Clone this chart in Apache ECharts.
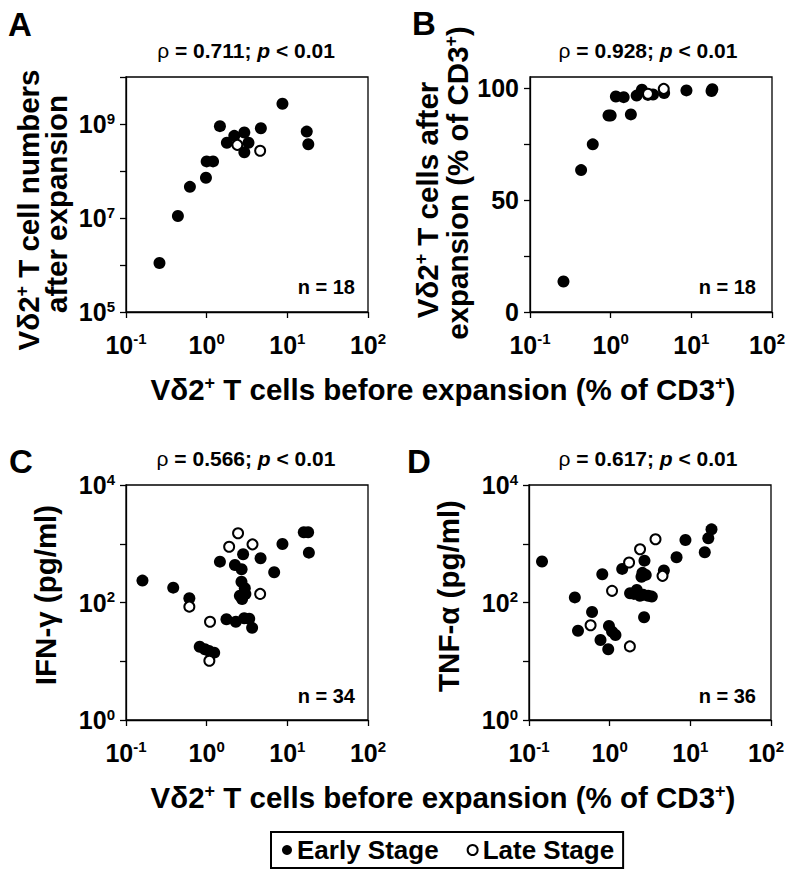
<!DOCTYPE html>
<html><head><meta charset="utf-8">
<script src="https://cdn.jsdelivr.net/npm/echarts@6/dist/echarts.min.js"></script>
<style>html,body{margin:0;padding:0;background:#fff}#c{width:786px;height:874px}</style>
</head><body><div id="c"></div>
<script>
const FONT = '"Liberation Sans", Arial, Helvetica, sans-serif';

// ---- Panel A: cell numbers after expansion (log) ----
const aEarlyX = [0.26, 0.44, 0.62, 0.98, 1.0, 1.2, 1.46, 1.78, 2.2, 2.93, 3.3, 2.93, 4.7, 8.7, 17.4, 18.2];
const aEarlyY = [1.1e6, 1.1e7, 4.6e7, 7.2e7, 1.6e8, 1.6e8, 9e8, 4e8, 5.6e8, 6.6e8, 4e8, 2.5e8, 8.1e8, 2.7e9, 6.9e8, 3.7e8];
const aLateX = [2.4, 4.6];
const aLateY = [3.6e8, 2.7e8];

// ---- Panel B: % of CD3+ after expansion ----
const bEarlyX = [0.26, 0.43, 0.60, 0.94, 1.0, 1.16, 1.45, 1.78, 2.1, 2.44, 2.9, 3.35, 4.6, 8.7, 17.8, 18.2];
const bEarlyY = [13.6, 63.4, 74.9, 87.8, 87.8, 96.3, 96.0, 88.3, 96.7, 99.3, 97.0, 97.2, 97.8, 99.0, 98.7, 99.5];
const bLateX = [2.9, 4.55];
const bLateY = [97.5, 99.7];

// ---- Panel C: IFN-gamma (pg/ml) ----
const cEarlyX = [0.16, 0.385, 0.61, 1.46, 2.24, 2.71, 2.83, 4.66, 6.87, 8.7, 16, 18.1, 18.5, 2.7, 2.97, 3.02, 2.58, 2.75, 1.76, 2.3, 2.92, 3.37, 3.66, 0.82, 0.95, 1.07, 1.24];
const cEarlyY = [236, 179, 118, 496, 435, 368, 662, 566, 327, 990, 1570, 1570, 705, 226, 175, 140, 130, 115, 52, 47, 54, 53, 37, 17.7, 16, 15, 14];
const cLateX = [0.61, 1.1, 1.08, 1.9, 2.45, 3.7, 4.6];
const cLateY = [85, 47, 10.2, 891, 1506, 977, 140];

// ---- Panel D: TNF-alpha (pg/ml) ----
const dEarlyX = [0.145, 0.37, 0.405, 0.605, 0.81, 0.77, 0.96, 0.98, 1.07, 1.18, 1.43, 1.79, 2.17, 2.37, 2.7, 2.48, 2.8, 3.0, 3.33, 2.67, 4.7, 6.75, 8.7, 15.1, 16.7, 18.3, 2.55, 2.62, 2.0];
const dEarlyY = [498, 122, 33, 69, 303, 23, 16, 40, 32, 28, 373, 144, 164, 130, 516, 275, 295, 130, 126, 56, 350, 590, 1160, 718, 1240, 1760, 320, 135, 140];
const dLateX = [0.58, 1.07, 1.74, 2.38, 3.7, 4.52, 1.78];
const dLateY = [41, 158, 480, 805, 1190, 284, 17.9];

// ---- texts ----
const panelLetters = ['A', 'B', 'C', 'D'];
const panelTitles = ['{r|ρ} = 0.711; {i|p} < 0.01', '{r|ρ} = 0.928; {i|p} < 0.01', '{r|ρ} = 0.566; {i|p} < 0.01', '{r|ρ} = 0.617; {i|p} < 0.01'];
const nLabels = ['n = 18', 'n = 18', 'n = 34', 'n = 36'];
const legendNames = ['Early Stage', 'Late Stage'];
const xTitle = 'Vδ2{s|+} T cells before expansion (% of CD3{s|+})';
const yTitleA = ['Vδ2{s|+} T cell numbers', 'after expansion'];
const yTitleB = ['Vδ2{s|+} T cells after', 'expansion (% of CD3{s|+})'];
const yTitleC = 'IFN-γ (pg/ml)';
const yTitleD = 'TNF-α (pg/ml)';
const bTickValues = [0, 25, 50, 75, 100];
const bLabelValues = [0, 50, 100];

const zip = (xs, ys) => xs.map((x, i) => [x, ys[i]]);

const grids = [
  {left: 126, top: 77, width: 242, height: 235},
  {left: 530, top: 77, width: 242, height: 235},
  {left: 126, top: 485, width: 242, height: 235},
  {left: 529, top: 485, width: 242, height: 235}
].map(g => Object.assign({show: true, borderColor: '#000', borderWidth: 1.3, backgroundColor: 'transparent', containLabel: false, outerBoundsMode: 'none'}, g));

const tickRich = {
  b: {fontSize: 25, fontWeight: 'bold', fontFamily: FONT, color: '#000', lineHeight: 27},
  s: {fontSize: 15, fontWeight: 'bold', fontFamily: FONT, color: '#000', lineHeight: 16, verticalAlign: 'top'},
  sEdge: {fontSize: 15, fontWeight: 'bold', fontFamily: FONT, color: '#000', lineHeight: 16, verticalAlign: 'top', padding: [0, 10, 0, 0]}
};
const expOf = v => Math.round(Math.log10(v));
const powLabel = (e, edge) => '{b|10}{' + (edge ? 'sEdge' : 's') + '|' + (e < 0 ? '-' + (-e) : e) + '}';

const axisLineStyle = {color: '#000', width: 1.3};

function logX(atEdge) {
  return {
    type: 'log', logBase: 10, min: 0.1, max: 100,
    axisLine: {show: true, lineStyle: axisLineStyle},
    axisTick: {show: true, length: 6, lineStyle: axisLineStyle},
    splitLine: {show: false},
    axisLabel: {margin: 19, formatter: v => { const e = expOf(v); return powLabel(e, atEdge && e === 2); }, rich: tickRich}
  };
}
function logY(min, max, keepOdd) {
  return {
    type: 'log', logBase: 10, min: min, max: max,
    axisLine: {show: true, lineStyle: axisLineStyle},
    axisTick: {show: true, length: 6, lineStyle: axisLineStyle},
    splitLine: {show: false},
    axisLabel: {
      margin: 11,
      formatter: v => { const e = expOf(v); const odd = Math.abs(e) % 2 === 1; return (odd === keepOdd) ? powLabel(e, false) : ''; },
      rich: tickRich
    }
  };
}

const xAxes = [0, 1, 2, 3].map(i => Object.assign(logX(i % 2 === 1), {gridIndex: i}));
const yAxes = [
  Object.assign(logY(1e5, 1e10, true), {gridIndex: 0}),
  {
    gridIndex: 1, type: 'value', min: 0, max: 105, interval: 25,
    axisLine: {show: true, lineStyle: axisLineStyle},
    axisTick: {show: true, length: 6, lineStyle: axisLineStyle, customValues: bTickValues},
    splitLine: {show: false},
    axisLabel: {margin: 11, customValues: bLabelValues, fontSize: 25, fontWeight: 'bold', fontFamily: FONT, color: '#000'}
  },
  Object.assign(logY(1, 1e4, false), {gridIndex: 2}),
  Object.assign(logY(1, 1e4, false), {gridIndex: 3})
];

const panels = [
  [aEarlyX, aEarlyY, aLateX, aLateY],
  [bEarlyX, bEarlyY, bLateX, bLateY],
  [cEarlyX, cEarlyY, cLateX, cLateY],
  [dEarlyX, dEarlyY, dLateX, dLateY]
];
const series = [];
panels.forEach((p, i) => {
  series.push({
    type: 'scatter', name: legendNames[0], xAxisIndex: i, yAxisIndex: i,
    data: zip(p[0], p[1]), symbol: 'circle', symbolSize: 12,
    itemStyle: {color: '#000', borderColor: '#000', borderWidth: 0, opacity: 1}, z: 3, emphasis: {disabled: true}
  });
  series.push({
    type: 'scatter', name: legendNames[1], xAxisIndex: i, yAxisIndex: i,
    data: zip(p[2], p[3]), symbol: 'circle', symbolSize: 10,
    itemStyle: {color: '#fff', borderColor: '#000', borderWidth: 2, opacity: 1}, z: 4, emphasis: {disabled: true}
  });
});

function txt(x, y, text, size, opts) {
  opts = opts || {};
  return {
    type: 'text', x: x, y: y, rotation: opts.rot || 0, z: 100,
    style: {
      text: text, fill: '#000', fontSize: size, fontWeight: 'bold', fontFamily: FONT,
      align: opts.align || 'center', textAlign: opts.align || 'center',
      verticalAlign: 'middle', textVerticalAlign: 'middle',
      rich: opts.rich || {}
    }
  };
}
const supRich = size => ({s: {fontSize: Math.round(size * 0.6), fontWeight: 'bold', fontFamily: FONT, fill: '#000', color: '#000', verticalAlign: 'top', lineHeight: Math.round(size * 0.6)}});
const titleRich = size => ({
  i: {fontSize: size, fontWeight: 'bold', fontStyle: 'italic', fontFamily: FONT, fill: '#000', color: '#000'},
  r: {fontSize: size, fontWeight: 'normal', fontFamily: FONT, fill: '#000', color: '#000'}
});

const R = Math.PI / 2;
const AT = 29.5;
const TT = 21;
const graphics = [
  txt(8, 24, panelLetters[0], 33, {align: 'left'}),
  txt(412, 23, panelLetters[1], 33, {align: 'left'}),
  txt(9, 461, panelLetters[2], 33, {align: 'left'}),
  txt(407, 461, panelLetters[3], 33, {align: 'left'}),
  txt(246, 50, panelTitles[0], TT, {rich: titleRich(TT)}),
  txt(648, 50, panelTitles[1], TT, {rich: titleRich(TT)}),
  txt(246, 458, panelTitles[2], TT, {rich: titleRich(TT)}),
  txt(648, 458, panelTitles[3], TT, {rich: titleRich(TT)}),
  txt(355, 287, nLabels[0], 20, {align: 'right'}),
  txt(756, 287, nLabels[1], 20, {align: 'right'}),
  txt(355, 696, nLabels[2], 20, {align: 'right'}),
  txt(756, 696, nLabels[3], 20, {align: 'right'}),
  txt(443, 389, xTitle, AT, {rich: supRich(AT)}),
  txt(443, 797, xTitle, AT, {rich: supRich(AT)}),
  txt(28, 210, yTitleA[0], AT, {rot: R, rich: supRich(AT)}),
  txt(56, 204, yTitleA[1], AT, {rot: R, rich: supRich(AT)}),
  txt(427, 200, yTitleB[0], AT, {rot: R, rich: supRich(AT)}),
  txt(457, 183, yTitleB[1], AT, {rot: R, rich: supRich(AT)}),
  txt(45, 595, yTitleC, AT, {rot: R}),
  txt(448, 596, yTitleD, AT, {rot: R})
];

const chart = echarts.init(document.getElementById('c'), null, {renderer: 'svg'});
chart.setOption({
  animation: false,
  backgroundColor: '#fff',
  textStyle: {fontFamily: FONT},
  grid: grids,
  xAxis: xAxes,
  yAxis: yAxes,
  legend: {
    data: legendNames, left: 271, top: 832, orient: 'horizontal',
    icon: 'circle', itemWidth: 10, itemHeight: 10, itemGap: 28,
    padding: [5, 9, 5, 11], borderColor: '#000', borderWidth: 2, borderRadius: 0,
    selectedMode: false,
    textStyle: {fontSize: 26, fontWeight: 'bold', fontFamily: FONT, color: '#000'}
  },
  series: series,
  graphic: graphics
});
</script></body></html>
